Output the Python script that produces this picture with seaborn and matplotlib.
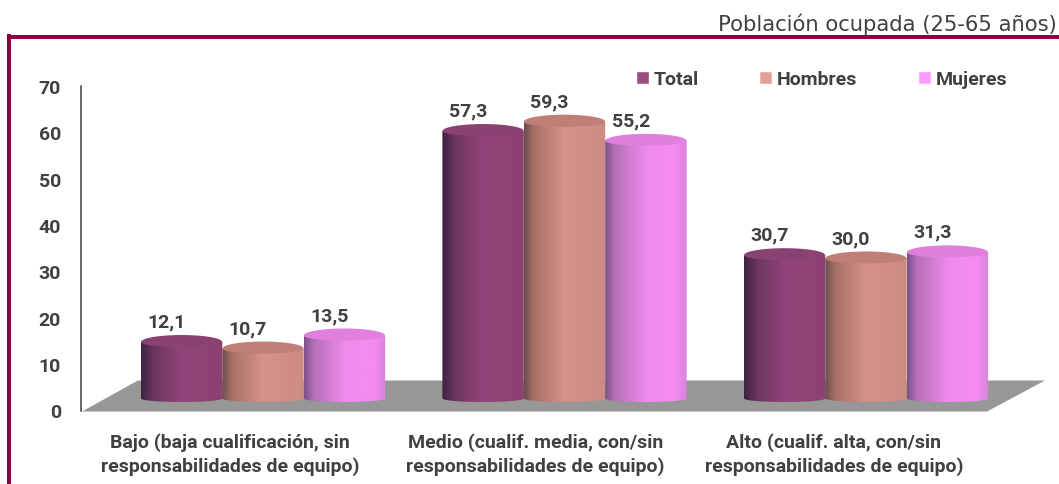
import numpy as np
import pandas as pd
import matplotlib
matplotlib.use("Agg")
import matplotlib.pyplot as plt
from matplotlib.colors import LinearSegmentedColormap
from matplotlib.patches import Polygon, Rectangle
from matplotlib.transforms import ScaledTranslation
import seaborn as sns

categories = ["Bajo (baja cualificación, sin\nresponsabilidades de equipo)",
              "Medio (cualif. media, con/sin\nresponsabilidades de equipo)",
              "Alto (cualif. alta, con/sin\nresponsabilidades de equipo)"]
series_names = ["Total", "Hombres", "Mujeres"]
total = [12.1, 57.3, 30.7]
hombres = [10.7, 59.3, 30.0]
mujeres = [13.5, 55.2, 31.3]
y_ticks = [0, 10, 20, 30, 40, 50, 60, 70]
subtitle = "Población ocupada (25-65 años)"

legend_colors = ["#9c4c80", "#e4a098", "#ff99ff"]
cap_colors = ["#8a4272", "#bf7f77", "#e07fdc"]
gradients = [
    [(0, "#3e2240"), (0.15, "#6a3560"), (0.5, "#92447a"), (1, "#8c4172")],
    [(0, "#6b4f4b"), (0.12, "#a87068"), (0.5, "#d6928a"), (1, "#cc8b83")],
    [(0, "#7d5289"), (0.12, "#b570b8"), (0.5, "#ee8bec"), (0.85, "#f58bf2"), (1, "#d884dc")],
]
bar_z = [4, 3, 5]

W, H = 1059, 485
sns.set_theme(style="white")
BOLD = ["Roboto", "Liberation Sans", "DejaVu Sans"]
plt.rcParams["font.family"] = BOLD
TXT = "#404040"
FS = 14

fig = plt.figure(figsize=(W / 100, H / 100), dpi=100, facecolor="white")

def fx(p): return p / W
def fy(p): return 1 - p / H
def axes_px(x0, y_top, x1, y_bot):
    return [fx(x0), fy(y_bot), (x1 - x0) / W, (y_bot - y_top) / H]

# frame and floor
MAROON = "#8c0040"
fig.add_artist(Rectangle((fx(7), fy(40)), (W - 7) / W, 4 / H, transform=fig.transFigure,
                         fc=MAROON, ec="none", zorder=-2))
fig.add_artist(Rectangle((fx(7), 0), 4 / W, fy(35), transform=fig.transFigure,
                         fc=MAROON, ec="none", zorder=-2))
floor_px = [(82, 412.5), (138, 381.5), (1045, 381.5), (987, 412.5)]
fig.add_artist(Polygon([(fx(a), fy(b)) for a, b in floor_px], closed=True,
                       transform=fig.transFigure, fc="#979797", ec="none", zorder=-1))

# value axis
ax_y = fig.add_axes(axes_px(81, 87, 112, 411.5))
ax_y.set_ylim(0, 70)
ax_y.patch.set_visible(False)
ax_y.set_xticks([])
ax_y.set_yticks(y_ticks)
ax_y.tick_params(axis="y", length=0, pad=14.5, labelsize=FS, labelcolor=TXT)
for lab in ax_y.get_yticklabels():
    lab.set_fontweight("bold")
for s in ["top", "right", "bottom"]:
    ax_y.spines[s].set_visible(False)
ax_y.spines["left"].set_color("#404040")
ax_y.spines["left"].set_linewidth(1.1)

# bars
BASE, PXU = 399.5, 4.668
ax = fig.add_axes(axes_px(112.25, BASE - 70 * PXU, 1016.75, BASE + 3 * PXU))
ax.patch.set_visible(False)
df = pd.DataFrame({"cat": categories * 3,
                   "serie": np.repeat(series_names, 3),
                   "valor": total + hombres + mujeres})
sns.barplot(data=df, x="cat", y="valor", hue="serie", hue_order=series_names,
            palette=legend_colors, saturation=1, width=0.81, gap=0, ax=ax)
ax.set_xlim(-0.5, 2.5)
ax.set_ylim(-3, 70)
ax.set_xlabel("")
ax.set_ylabel("")
ax.set_yticks([])
for s in ax.spines.values():
    s.set_visible(False)

handles, labels = ax.get_legend_handles_labels()
SAG_T, SAG_C, SAG_B = 7 / PXU, 5 / PXU, 3.5 / PXU
t = np.linspace(-1, 1, 81)
arc = np.sqrt(1 - t ** 2)
for i, cont in enumerate(ax.containers):
    cmap = LinearSegmentedColormap.from_list(series_names[i], gradients[i])
    for rect in cont:
        x0, w, h = rect.get_x(), rect.get_width(), rect.get_height()
        xs = x0 + w * (t + 1) / 2
        rect.set_visible(False)
        body = np.vstack([np.c_[xs[::-1], np.full_like(xs, h)], np.c_[xs, -SAG_B * arc]])
        clip = Polygon(body, closed=True, transform=ax.transData, fc="none", ec="none")
        ax.add_patch(clip)
        im = ax.imshow(np.linspace(0, 1, 128)[None, :], cmap=cmap, aspect="auto",
                       extent=(x0, x0 + w, -SAG_B, h), zorder=bar_z[i], interpolation="bilinear")
        im.set_clip_path(clip)
        cap = np.vstack([np.c_[xs, h + SAG_T * arc], np.c_[xs[::-1], h - SAG_C * arc]])
        ax.add_patch(Polygon(cap, closed=True, fc=cap_colors[i], ec="none", zorder=bar_z[i] + 0.1))
        ax.annotate(f"{h:.1f}".replace(".", ","), (x0 + w / 2, h), xytext=(-15 * 0.72, 20.5 * 0.72),
                    textcoords="offset points", ha="center", va="center",
                    fontsize=FS, fontweight="bold", color=TXT, zorder=8)
ax.set_xlim(-0.5, 2.5)
ax.set_ylim(-3, 70)

# category labels
ax.tick_params(axis="x", length=0, pad=14.5, labelsize=FS, labelcolor=TXT)
for lab, dx in zip(ax.get_xticklabels(), [-33, -29, -32]):
    lab.set_fontweight("bold")
    lab.set_linespacing(1.3)
    lab.set_transform(lab.get_transform() + ScaledTranslation(dx / 100, 0, fig.dpi_scale_trans))

leg = ax.legend(handles, labels, loc="center left", bbox_to_anchor=(fx(636), fy(80)),
                bbox_transform=fig.transFigure, ncol=3, frameon=False, borderpad=0, borderaxespad=0,
                handlelength=0.66, handleheight=0.66, handletextpad=0.24, columnspacing=3.12,
                prop={"weight": "bold", "size": FS, "family": BOLD})
for txt in leg.get_texts():
    txt.set_color(TXT)

fig.text(fx(1057), fy(24), subtitle, ha="right", va="center", fontsize=15.2,
         family=["DejaVu Sans"], color="#404040")

fig.savefig("out.png", dpi=100)
